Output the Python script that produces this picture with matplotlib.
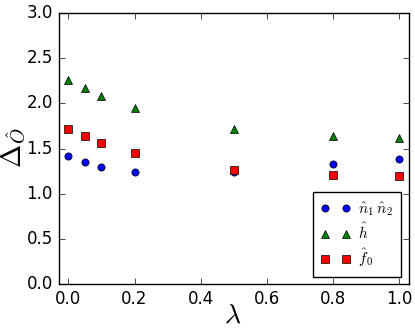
import matplotlib
matplotlib.use("Agg")
import matplotlib.pyplot as plt

# --- DATA ---
lam = [0.0, 0.05, 0.1, 0.2, 0.5, 0.8, 1.0]
delta_n1n2 = [1.42, 1.35, 1.30, 1.24, 1.24, 1.33, 1.38]
delta_h = [2.26, 2.17, 2.08, 1.95, 1.72, 1.635, 1.615]
delta_f0 = [1.72, 1.635, 1.56, 1.45, 1.26, 1.21, 1.20]

plt.style.use("classic")
plt.rcParams["mathtext.fontset"] = "cm"
plt.rcParams["font.family"] = ["DejaVu Sans"]

W, H = 415, 334
fig = plt.figure(figsize=(W / 100, H / 100), dpi=100, facecolor="white")
ax = fig.add_axes([58.5 / W, 50 / H, (409 - 58.5) / W, (284 - 13) / H])

ax.plot(lam, delta_n1n2, "o", color="blue", markersize=5.2, label=r"$\hat{n}_1\,\hat{n}_2$")
ax.plot(lam, delta_h, "^", color="green", markersize=5.2, label=r"$\hat{h}$")
ax.plot(lam, delta_f0, "s", color="red", markersize=5.2, label=r"$\hat{f}_0$")

ax.set_xlim(-0.03, 1.03)
ax.set_ylim(0.0, 3.0)
ax.set_xticks([0.0, 0.2, 0.4, 0.6, 0.8, 1.0])
ax.set_yticks([0.0, 0.5, 1.0, 1.5, 2.0, 2.5, 3.0])
ax.tick_params(labelsize=12)

# axis labels, placed where the reference has them
fig.text(233 / W, 1 - 315 / H, r"$\lambda$", fontsize=20, ha="center", va="center")
fig.text(13 / W, 1 - 148 / H, r"$\Delta_{\hat{O}}$", fontsize=20,
         ha="center", va="center", rotation=90)

leg = ax.legend(loc="lower right", numpoints=2, fontsize=11,
                bbox_to_anchor=((401 - 58.5) / 350.5, (284 - 277) / 271),
                borderaxespad=0.0, labelspacing=0.3, handlelength=2.0,
                handletextpad=0.5, borderpad=0.5)
leg.get_frame().set_edgecolor("black")

fig.savefig("out.png", dpi=100, facecolor="white")
